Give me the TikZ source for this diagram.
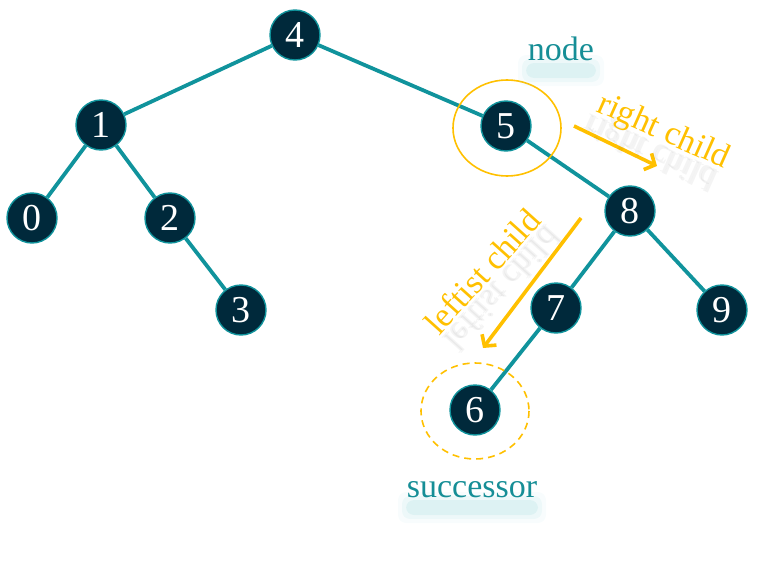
\documentclass[tikz,border=0pt]{standalone}
\usepackage{fontspec}
\setmainfont{Liberation Serif}
\usetikzlibrary{arrows.meta}
\definecolor{colEdge}{HTML}{10939C}
\definecolor{colNode}{HTML}{00293B}
\definecolor{colMark}{HTML}{FFC000}
\definecolor{colLabel}{HTML}{168E96}
\definecolor{colGlow}{HTML}{9ED9DD}

\begin{document}
\begin{tikzpicture}[x=1pt, y=-1pt,
		vtx/.style={circle, fill=colNode, draw=colEdge, line width=1.4pt,
			minimum size=50pt, inner sep=0pt, text=white,
			font=\fontsize{38}{38}\selectfont},
		edge/.style={colEdge, line width=3.8pt},
		ring/.style={colMark, line width=1.6pt},
		pointer/.style={colMark, line width=3.6pt,
			-{Straight Barb[length=8pt, width=18pt]}},
		lbl/.style={font=\fontsize{34}{34}\selectfont, anchor=base},
		ghost/.style={lbl, text=black, opacity=0.045, yscale=-1}
	]
	\useasboundingbox (0,0) rectangle (764,562);

	% ===== the tree =====
	\node[vtx] (n4) at (295,35)  {4};
	\node[vtx] (n1) at (101,125) {1};
	\node[vtx] (n5) at (506,126) {5};
	\node[vtx] (n0) at (32,218)  {0};
	\node[vtx] (n2) at (170,218) {2};
	\node[vtx] (n8) at (630,211) {8};
	\node[vtx] (n3) at (241,310) {3};
	\node[vtx] (n7) at (556,308) {7};
	\node[vtx] (n9) at (722,310) {9};
	\node[vtx] (n6) at (475,410) {6};

	\draw[edge] (n4) -- (n1);
	\draw[edge] (n4) -- (n5);
	\draw[edge] (n1) -- (n0);
	\draw[edge] (n1) -- (n2);
	\draw[edge] (n2) -- (n3);
	\draw[edge] (n5) -- (n8);
	\draw[edge] (n8) -- (n7);
	\draw[edge] (n8) -- (n9);
	\draw[edge] (n7) -- (n6);

	% ===== marks on the node and its successor =====
	\draw[ring] (507,128) ellipse (54 and 48);
	\draw[ring, dash pattern=on 7pt off 5pt] (475,411) ellipse (54 and 48);

	% soft glow under the teal words
	\foreach \g/\o in {0/0.20, 4/0.12, 8/0.07} {
		\fill[colGlow, opacity=\o, rounded corners=8pt]
			(526-\g,63-\g) rectangle (596+\g,78+\g);
		\fill[colGlow, opacity=\o, rounded corners=8pt]
			(406-\g,500-\g) rectangle (538+\g,515+\g);
	}
	\node[lbl, text=colLabel] (lnode) at (561,60)  {node};
	\node[lbl, text=colLabel] (lsucc) at (472,497) {successor};

	% ===== pointers =====
	\coordinate (rcA) at (574,126);
	\coordinate (rcB) at (657,166);
	\coordinate (lcA) at (581,218);
	\coordinate (lcB) at (483,348);
	\draw[pointer] (rcA) -- (rcB);
	\draw[pointer] (lcA) -- (lcB);

	% mirrored shadows, two faint copies for a blur
	\foreach \d in {0,2} {
		\node[ghost, rotate=24] at (654+\d,142+\d) {right child};
		\node[ghost, rotate=-48] at (493+\d,281) {leftist child};
	}
	\node[lbl, rotate=-24, text=colMark] (lright) at (660,140) {right child};
	\node[lbl, rotate=48, text=colMark] (lleft) at (491,279) {leftist child};
\end{tikzpicture}
\end{document}
